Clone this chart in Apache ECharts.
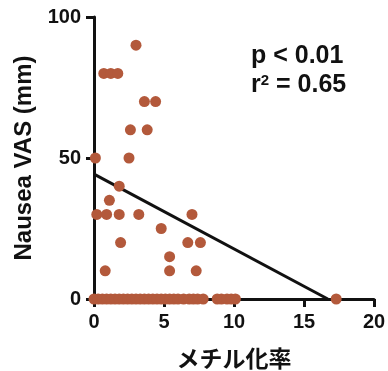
<!DOCTYPE html>
<html>
<head>
<meta charset="utf-8">
<script src="https://cdn.jsdelivr.net/npm/echarts@6/dist/echarts.min.js"></script>
<style>
  html, body { margin: 0; padding: 0; background: #fff; }
  #chart { width: 388px; height: 371px; }
</style>
</head>
<body>
<div id="chart"></div>
<script>
// メチル化率 vs Nausea VAS
var methylation = [
    0.1, 2.5, 3.0, 0.7, 1.2, 1.7, 3.6, 4.4, 2.6, 3.8,
    1.8, 1.1, 0.2, 0.9, 1.8, 3.2, 7.0, 4.8, 1.9, 6.7,
    7.6, 5.4, 0.8, 5.4, 7.3,
    0.0, 0.3, 0.6, 0.9, 1.2, 1.5, 1.8, 2.1, 2.4, 2.7,
    3.0, 3.3, 3.6, 3.9, 4.2, 4.5, 4.8, 5.1, 5.4, 5.7,
    6.0, 6.4, 6.8, 7.1, 7.4, 7.8, 8.8, 9.1, 9.5, 9.8,
    10.1, 17.3
];
var vas = [
    50, 50, 90, 80, 80, 80, 70, 70, 60, 60,
    40, 35, 30, 30, 30, 30, 30, 25, 20, 20,
    20, 15, 10, 10, 10,
    0, 0, 0, 0, 0, 0, 0, 0, 0, 0,
    0, 0, 0, 0, 0, 0, 0, 0, 0, 0,
    0, 0, 0, 0, 0, 0, 0, 0, 0, 0,
    0, 0
];
var fitX = [0, 16.7];
var fitY = [44.3, 0];
var xTicks = [0, 5, 10, 15, 20];
var yTicks = [0, 50, 100];
var statsText = ['p < 0.01', 'r{sup|2} = 0.65'];

(function() {

    var chart = echarts.init(document.getElementById('chart'));

    var pts = methylation.map(function(x, i) { return [x, vas[i]]; });
    var fit = fitX.map(function(x, i) { return [x, fitY[i]]; });

    var labelFont = {
        color: '#111',
        fontFamily: 'Liberation Sans, Arial',
        fontWeight: 'bold',
        fontSize: 20
    };

    var option = {
        animation: false,
        grid: {
            left: 94,
            right: 14,
            top: 17,
            bottom: 72,
            containLabel: false,
            outerBoundsMode: 'none'
        },
        xAxis: {
            type: 'value',
            min: xTicks[0],
            max: xTicks[xTicks.length - 1],
            interval: 5,
            name: 'メチル化率',
            nameLocation: 'middle',
            nameGap: 48,
            nameTextStyle: {
                color: '#111',
                fontFamily: 'Noto Sans CJK JP',
                fontWeight: 'bold',
                fontSize: 23
            },
            axisLine: { show: true, lineStyle: { color: '#111', width: 3 } },
            axisTick: { show: true, length: 8, lineStyle: { color: '#111', width: 3 } },
            axisLabel: Object.assign({ margin: 13 }, labelFont),
            splitLine: { show: false }
        },
        yAxis: {
            type: 'value',
            min: yTicks[0],
            max: yTicks[yTicks.length - 1],
            interval: 50,
            name: 'Nausea VAS (mm)',
            nameLocation: 'middle',
            nameGap: 57,
            nameTextStyle: {
                color: '#111',
                fontFamily: 'Liberation Sans, Arial',
                fontWeight: 'bold',
                fontSize: 24
            },
            axisLine: { show: true, lineStyle: { color: '#111', width: 3 } },
            axisTick: { show: true, length: 8, lineStyle: { color: '#111', width: 3 } },
            axisLabel: Object.assign({ margin: 13 }, labelFont),
            splitLine: { show: false }
        },
        graphic: [
            {
                type: 'text',
                left: 251,
                top: 44,
                style: {
                    text: statsText[0],
                    fill: '#111',
                    font: 'bold 25px "Liberation Sans", Arial'
                }
            },
            {
                type: 'text',
                left: 251,
                top: 73,
                style: {
                    text: statsText[1],
                    fill: '#111',
                    font: 'bold 25px "Liberation Sans", Arial',
                    rich: {
                        sup: {
                            fontSize: 15,
                            fontWeight: 'bold',
                            fontFamily: 'Liberation Sans',
                            verticalAlign: 'top',
                            padding: [0, 0, 10, 0]
                        }
                    }
                }
            }
        ],
        series: [
            {
                name: 'fit',
                type: 'line',
                data: fit,
                showSymbol: false,
                symbol: 'none',
                lineStyle: { color: '#111', width: 3 },
                z: 2
            },
            {
                name: 'data',
                type: 'scatter',
                data: pts,
                symbolSize: 11,
                clip: false,
                itemStyle: { color: '#b3593b', opacity: 1 },
                z: 3
            }
        ]
    };

    chart.setOption(option);

})();
</script>
</body>
</html>
